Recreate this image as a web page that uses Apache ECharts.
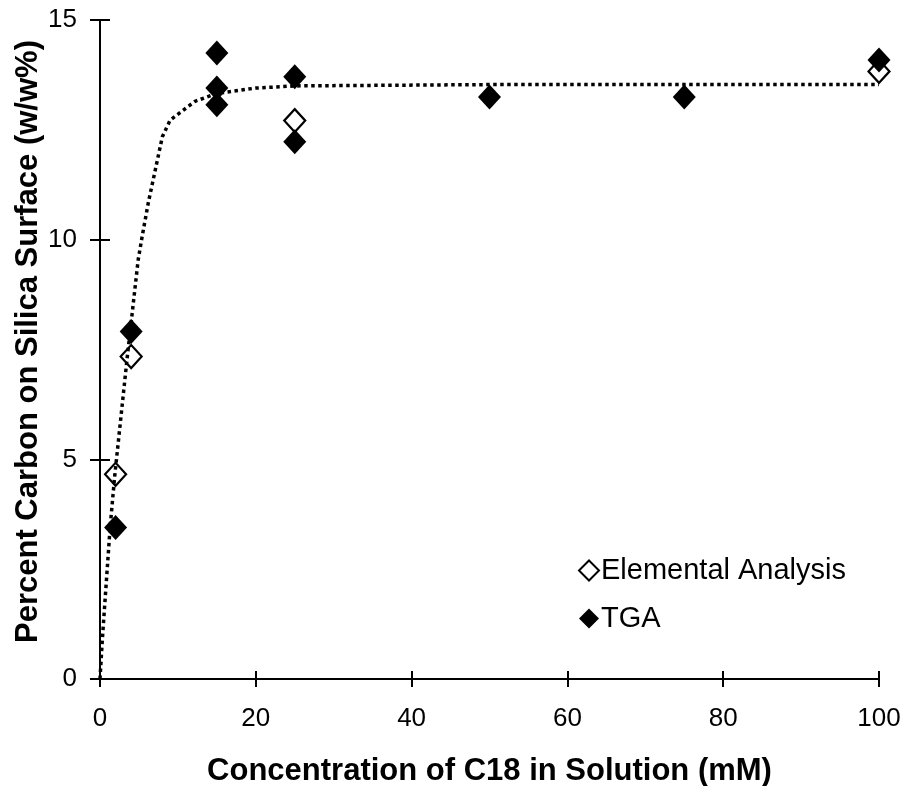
<!DOCTYPE html>
<html>
<head>
<meta charset="utf-8">
<script src="https://cdn.jsdelivr.net/npm/echarts@6/dist/echarts.min.js"></script>
<style>
  html, body { margin: 0; padding: 0; background: #fff; }
  #chart { width: 908px; height: 786px; }
</style>
</head>
<body>
<div id="chart"></div>
<script>
// Elemental analysis (open diamonds)
const concEA = [2, 4, 25, 100]
const carbonEA = [4.66, 7.34, 12.71, 13.83]

// TGA (filled diamonds)
const concTGA = [2, 4, 15, 15, 15, 25, 25, 50, 75, 100]
const carbonTGA = [3.45, 7.91, 14.25, 13.45, 13.07, 13.71, 12.23, 13.25, 13.25, 14.09]

// fitted curve
const fitX = [0, 0.3, 1.3, 1.9, 3.5, 4.9, 5.4, 6.2, 7.1, 8.0, 9.0, 12.2, 15, 20, 25, 50, 100]
const fitY = [0, 0.9, 3.46, 4.64, 7.33, 9.54, 10.06, 10.84, 11.59, 12.34, 12.72, 13.15, 13.33, 13.45, 13.5, 13.53, 13.53]

const xTicks = [0, 20, 40, 60, 80, 100]
const yTicks = [0, 5, 10, 15]

const FONT = '"Liberation Sans", Arial, sans-serif'

const zip = (xs, ys) => xs.map((x, i) => [x, ys[i]])

const chart = echarts.init(document.getElementById('chart'))

// Excel-style cross ticks: one axis draws the outside half, a twin draws the inside half
const baseX = {
  type: 'value',
  min: xTicks[0],
  max: xTicks[xTicks.length - 1],
  interval: 20,
  splitLine: { show: false }
}
const baseY = {
  type: 'value',
  min: yTicks[0],
  max: yTicks[yTicks.length - 1],
  interval: 5,
  splitLine: { show: false }
}

const option = {
  animation: false,
  backgroundColor: '#fff',
  textStyle: { fontFamily: FONT, color: '#000' },
  grid: {
    left: 100,
    top: 20,
    right: 29,
    bottom: 107,
    outerBoundsMode: 'none'
  },
  legend: {
    orient: 'vertical',
    left: 573,
    top: 551,
    itemWidth: 20,
    itemHeight: 20,
    itemGap: 19,
    data: ['Elemental Analysis', 'TGA'],
    textStyle: { fontFamily: FONT, fontSize: 29, color: '#000', padding: [0, 0, 0, -3] }
  },
  xAxis: [
    {
      ...baseX,
      name: 'Concentration of C18 in Solution (mM)',
      nameLocation: 'middle',
      nameGap: 77,
      nameMoveOverlap: false,
      nameTextStyle: { fontFamily: FONT, fontSize: 31, fontWeight: 'bold', color: '#000' },
      axisLine: { lineStyle: { color: '#000', width: 2 } },
      axisTick: { length: 8, lineStyle: { color: '#000', width: 2 } },
      axisLabel: { fontFamily: FONT, fontSize: 26, color: '#000', margin: 27 }
    },
    {
      ...baseX,
      position: 'bottom',
      axisLine: { show: false },
      axisTick: { inside: true, length: 8, lineStyle: { color: '#000', width: 2 } },
      axisLabel: { show: false }
    }
  ],
  yAxis: [
    {
      ...baseY,
      name: 'Percent Carbon on Silica Surface (w/w%)',
      nameLocation: 'middle',
      nameGap: 56,
      nameMoveOverlap: false,
      nameTextStyle: { fontFamily: FONT, fontSize: 31, fontWeight: 'bold', color: '#000', padding: [0, 0, 0, 16] },
      axisLine: { show: true, lineStyle: { color: '#000', width: 2 } },
      axisTick: { show: true, length: 10, lineStyle: { color: '#000', width: 2 } },
      axisLabel: { fontFamily: FONT, fontSize: 26, color: '#000', margin: 23 }
    },
    {
      ...baseY,
      position: 'left',
      axisLine: { show: false },
      axisTick: { show: true, inside: true, length: 10, lineStyle: { color: '#000', width: 2 } },
      axisLabel: { show: false }
    }
  ],
  series: [
    {
      name: 'fit',
      type: 'line',
      data: zip(fitX, fitY),
      showSymbol: false,
      silent: true,
      smooth: false,
      lineStyle: { color: '#000', width: 3.5, type: [3.5, 3.5], cap: 'butt' },
      z: 1
    },
    {
      name: 'Elemental Analysis',
      type: 'scatter',
      data: zip(concEA, carbonEA),
      symbol: 'diamond',
      symbolSize: [21, 23],
      itemStyle: { color: 'rgba(255,255,255,0)', borderColor: '#000', borderWidth: 2.2, opacity: 1 },
      z: 2
    },
    {
      name: 'TGA',
      type: 'scatter',
      data: zip(concTGA, carbonTGA),
      symbol: 'diamond',
      symbolSize: [23, 25],
      itemStyle: { color: '#000', opacity: 1 },
      z: 3
    }
  ]
}

chart.setOption(option)
</script>
</body>
</html>
